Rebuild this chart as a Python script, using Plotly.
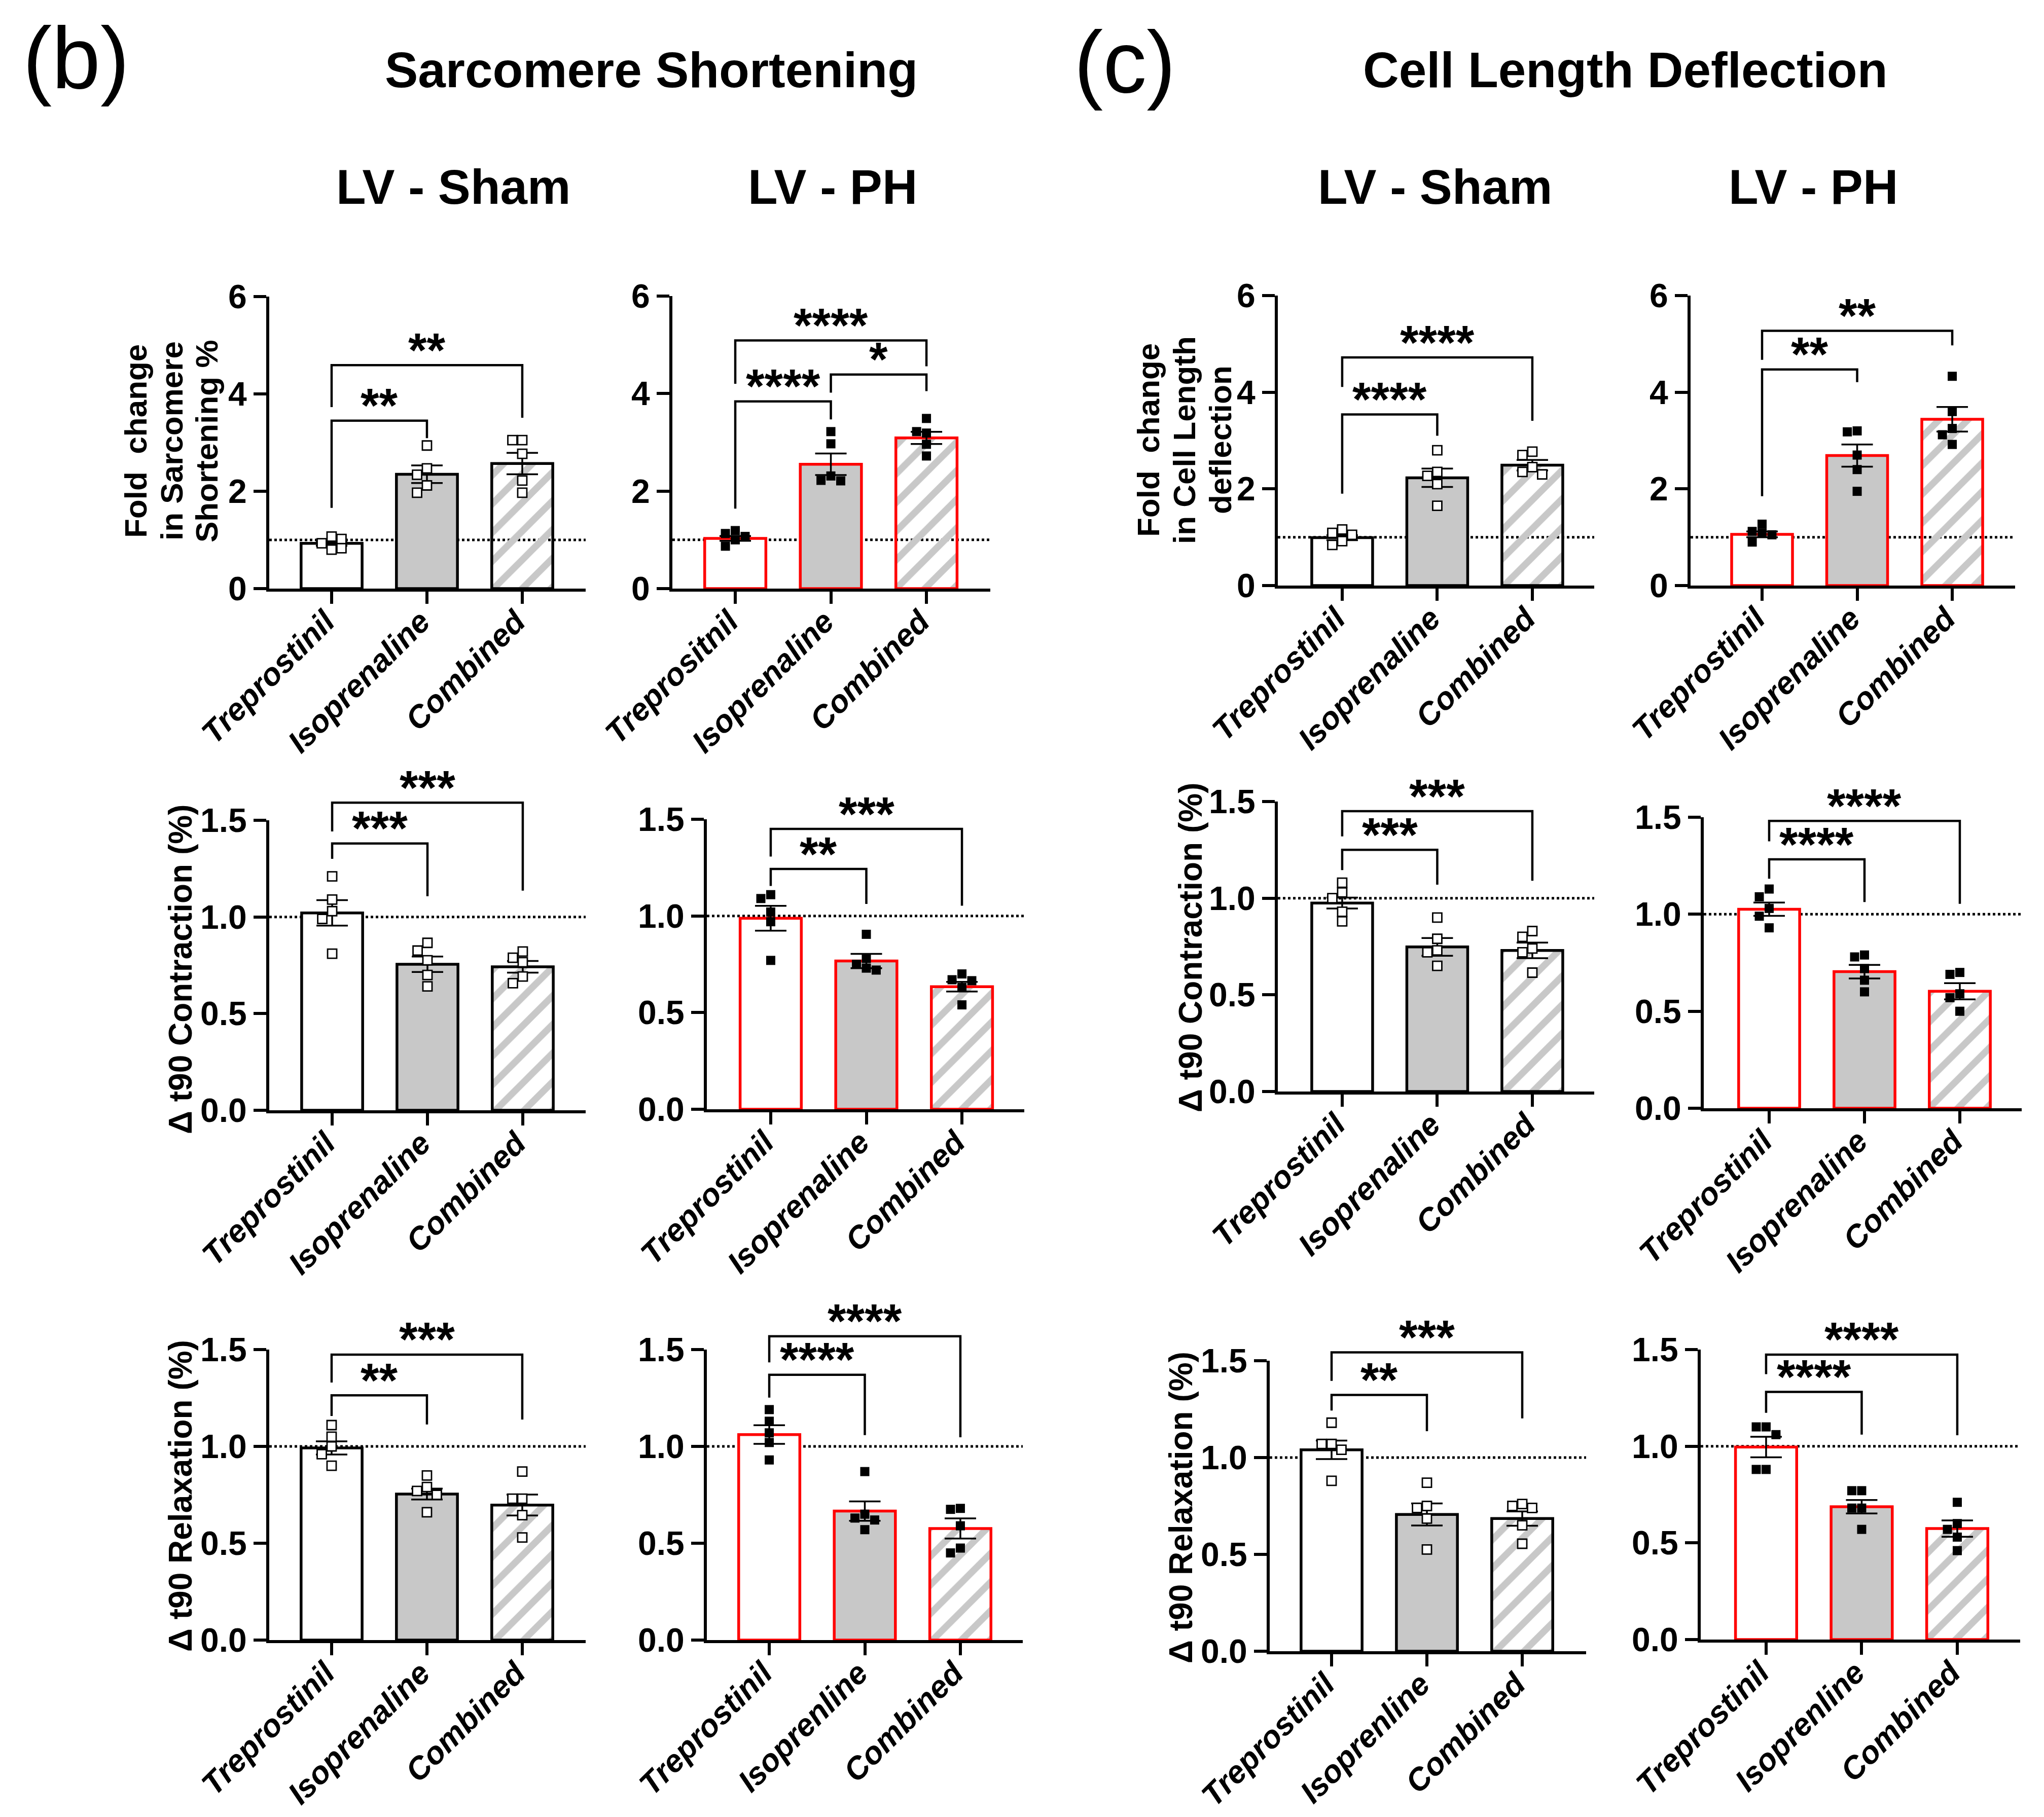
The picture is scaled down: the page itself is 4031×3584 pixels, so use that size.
import plotly.graph_objects as go

W, H = 4031, 3584
FONT = "Liberation Sans"

# ---------------- categories / tick labels ----------------
LBL_STD = ["Treprostinil", "Isoprenaline", "Combined"]
LBL_TYPO = ["Treprositnil", "Isoprenaline", "Combined"]
LBL_ISOPRENLINE = ["Treprostinil", "Isoprenline", "Combined"]

TICKS_FOLD = [0, 2, 4, 6]
TICKTEXT_FOLD = ["0", "2", "4", "6"]
TICKS_T90 = [0, 0.5, 1.0, 1.5]
TICKTEXT_T90 = ["0.0", "0.5", "1.0", "1.5"]

# ---------------- data (Treprostinil, Isoprenaline, Combined) ----------------
# Row 1: fold change in sarcomere shortening (b) / cell length deflection (c)
ss_sham_trep = [1.07, 0.80, 0.93, 1.02, 0.83]
ss_sham_iso = [2.94, 2.47, 2.34, 2.12, 1.97]
ss_sham_comb = [3.05, 3.05, 2.77, 2.22, 1.97]
ss_sham_mean = [0.93, 2.35, 2.57]
ss_sham_sem = [0.05, 0.18, 0.22]

ss_ph_trep = [1.19, 1.13, 1.07, 1.00, 0.87]
ss_ph_iso = [3.22, 2.97, 2.31, 2.22, 2.21]
ss_ph_comb = [3.49, 3.19, 3.22, 2.96, 2.72]
ss_ph_mean = [1.03, 2.55, 3.09]
ss_ph_sem = [0.05, 0.22, 0.125]

cl_sham_trep = [1.16, 1.09, 1.05, 0.92, 0.84]
cl_sham_iso = [2.80, 2.35, 2.27, 2.10, 1.65]
cl_sham_comb = [2.77, 2.70, 2.45, 2.35, 2.30]
cl_sham_mean = [0.99, 2.23, 2.49]
cl_sham_sem = [0.05, 0.19, 0.11]

cl_ph_trep = [1.27, 1.12, 1.08, 1.05, 0.90]
cl_ph_iso = [3.20, 3.18, 2.70, 2.40, 1.95]
cl_ph_comb = [4.33, 3.60, 3.25, 3.12, 2.92]
cl_ph_mean = [1.06, 2.69, 3.44]
cl_ph_sem = [0.06, 0.23, 0.255]

# Row 2: delta t90 contraction
tc_ss_sham_trep = [1.21, 1.09, 1.03, 0.99, 0.81]
tc_ss_sham_iso = [0.866, 0.826, 0.776, 0.70, 0.641]
tc_ss_sham_comb = [0.821, 0.789, 0.766, 0.692, 0.657]
tc_ss_sham_mean = [1.021, 0.755, 0.742]
tc_ss_sham_sem = [0.066, 0.04, 0.03]

tc_ss_ph_trep = [1.11, 1.09, 1.02, 0.97, 0.77]
tc_ss_ph_iso = [0.905, 0.78, 0.75, 0.73, 0.72]
tc_ss_ph_comb = [0.70, 0.67, 0.665, 0.63, 0.54]
tc_ss_ph_mean = [0.988, 0.767, 0.634]
tc_ss_ph_sem = [0.064, 0.037, 0.025]

tc_cl_sham_trep = [1.08, 1.03, 1.00, 0.93, 0.88]
tc_cl_sham_iso = [0.90, 0.79, 0.73, 0.72, 0.65]
tc_cl_sham_comb = [0.83, 0.80, 0.74, 0.72, 0.615]
tc_cl_sham_mean = [0.975, 0.748, 0.73]
tc_cl_sham_sem = [0.028, 0.046, 0.04]

tc_cl_ph_trep = [1.13, 1.09, 1.03, 0.99, 0.93]
tc_cl_ph_iso = [0.79, 0.78, 0.72, 0.66, 0.60]
tc_cl_ph_comb = [0.70, 0.69, 0.59, 0.57, 0.50]
tc_cl_ph_mean = [1.026, 0.704, 0.603]
tc_cl_ph_sem = [0.034, 0.035, 0.042]

# Row 3: delta t90 relaxation
tr_ss_sham_trep = [1.11, 1.05, 1.00, 0.96, 0.90]
tr_ss_sham_iso = [0.85, 0.79, 0.77, 0.75, 0.66]
tr_ss_sham_comb = [0.87, 0.73, 0.73, 0.645, 0.53]
tr_ss_sham_mean = [0.992, 0.754, 0.697]
tr_ss_sham_sem = [0.034, 0.028, 0.054]

tr_ss_ph_trep = [1.19, 1.13, 1.07, 1.02, 0.93]
tr_ss_ph_iso = [0.87, 0.65, 0.63, 0.62, 0.57]
tr_ss_ph_comb = [0.68, 0.675, 0.59, 0.475, 0.45]
tr_ss_ph_mean = [1.061, 0.666, 0.576]
tr_ss_ph_sem = [0.048, 0.05, 0.052]

tr_cl_sham_trep = [1.18, 1.07, 1.07, 1.04, 0.88]
tr_cl_sham_iso = [0.87, 0.75, 0.74, 0.685, 0.525]
tr_cl_sham_comb = [0.76, 0.75, 0.74, 0.65, 0.555]
tr_cl_sham_mean = [1.04, 0.706, 0.685]
tr_cl_sham_sem = [0.048, 0.057, 0.037]

tr_cl_ph_trep = [1.10, 1.10, 1.06, 0.88, 0.88]
tr_cl_ph_iso = [0.77, 0.77, 0.68, 0.68, 0.57]
tr_cl_ph_comb = [0.71, 0.60, 0.57, 0.53, 0.46]
tr_cl_ph_mean = [0.996, 0.687, 0.574]
tr_cl_ph_sem = [0.053, 0.035, 0.042]

# ---------------- panel layout (pixel geometry, bracket levels) ----------------
# geom: (axis left px, axis right px, y=0 px, y=top-tick px)
# br: (group i, group j, label, bracket level, left-leg end, right-leg end)
PANELS = [
    dict(geom=(523, 1147, 1153, 577), xr=(-0.654, 2.665), ymax=6, ext=6.3, ph=False,
         labels=LBL_STD, pts=(ss_sham_trep, ss_sham_iso, ss_sham_comb),
         mean=ss_sham_mean, sem=ss_sham_sem,
         br=[(0, 2, "**", 4.59, 3.73, 3.51), (0, 1, "**", 3.45, 1.66, 3.09)]),
    dict(geom=(1318, 1945, 1153, 576), xr=(-0.658, 2.668), ymax=6, ext=6.3, ph=True,
         labels=LBL_TYPO, pts=(ss_ph_trep, ss_ph_iso, ss_ph_comb),
         mean=ss_ph_mean, sem=ss_ph_sem,
         br=[(0, 2, "****", 5.09, 4.2, 4.56), (0, 1, "****", 3.84, 1.64, 3.47),
             (1, 2, "*", 4.39, 4.02, 4.05)]),
    dict(geom=(2512, 3136, 1147, 575), xr=(-0.677, 2.651), ymax=6, ext=6.3, ph=False,
         labels=LBL_STD, pts=(cl_sham_trep, cl_sham_iso, cl_sham_comb),
         mean=cl_sham_mean, sem=cl_sham_sem,
         br=[(0, 2, "****", 4.72, 4.11, 3.41), (0, 1, "****", 3.54, 1.9, 3.1)]),
    dict(geom=(3326, 3966, 1147, 575), xr=(-0.752, 2.661), ymax=6, ext=6.3, ph=True,
         labels=LBL_STD, pts=(cl_ph_trep, cl_ph_iso, cl_ph_comb),
         mean=cl_ph_mean, sem=cl_ph_sem,
         br=[(0, 2, "**", 5.27, 4.67, 4.97), (0, 1, "**", 4.47, 1.85, 4.21)]),
    dict(geom=(523, 1147, 2182, 1610), xr=(-0.66, 2.66), ymax=1.5, ext=1.8, ph=False,
         labels=LBL_STD, pts=(tc_ss_sham_trep, tc_ss_sham_iso, tc_ss_sham_comb),
         mean=tc_ss_sham_mean, sem=tc_ss_sham_sem,
         br=[(0, 2, "***", 1.591, 1.442, 1.136), (0, 1, "***", 1.38, 1.301, 1.107)]),
    dict(geom=(1386, 2012, 2180, 1608), xr=(-0.668, 2.652), ymax=1.5, ext=1.8, ph=True,
         labels=LBL_STD, pts=(tc_ss_ph_trep, tc_ss_ph_iso, tc_ss_ph_comb),
         mean=tc_ss_ph_mean, sem=tc_ss_ph_sem,
         br=[(0, 2, "***", 1.45, 1.307, 1.053), (0, 1, "**", 1.243, 1.155, 1.062)]),
    dict(geom=(2512, 3136, 2145, 1573), xr=(-0.677, 2.651), ymax=1.5, ext=1.8, ph=False,
         labels=LBL_STD, pts=(tc_cl_sham_trep, tc_cl_sham_iso, tc_cl_sham_comb),
         mean=tc_cl_sham_mean, sem=tc_cl_sham_sem,
         br=[(0, 2, "***", 1.45, 1.32, 1.09), (0, 1, "***", 1.25, 1.145, 1.07)]),
    dict(geom=(3352, 3979, 2178, 1604), xr=(-0.686, 2.649), ymax=1.5, ext=1.8, ph=True,
         labels=LBL_STD, pts=(tc_cl_ph_trep, tc_cl_ph_iso, tc_cl_ph_comb),
         mean=tc_cl_ph_mean, sem=tc_cl_ph_sem,
         br=[(0, 2, "****", 1.481, 1.376, 1.054), (0, 1, "****", 1.283, 1.183, 1.063)]),
    dict(geom=(523, 1147, 3227, 2654), xr=(-0.654, 2.665), ymax=1.5, ext=1.8, ph=False,
         labels=LBL_STD, pts=(tr_ss_sham_trep, tr_ss_sham_iso, tr_ss_sham_comb),
         mean=tr_ss_sham_mean, sem=tr_ss_sham_sem,
         br=[(0, 2, "***", 1.474, 1.33, 1.139), (0, 1, "**", 1.264, 1.157, 1.113)]),
    dict(geom=(1386, 2009, 3227, 2654), xr=(-0.653, 2.653), ymax=1.5, ext=1.8, ph=True,
         labels=LBL_ISOPRENLINE, pts=(tr_ss_ph_trep, tr_ss_ph_iso, tr_ss_ph_comb),
         mean=tr_ss_ph_mean, sem=tr_ss_ph_sem,
         br=[(0, 2, "****", 1.569, 1.434, 1.047), (0, 1, "****", 1.37, 1.252, 1.058)]),
    dict(geom=(2496, 3120, 3249, 2676), xr=(-0.649, 2.67), ymax=1.5, ext=1.8, ph=False,
         labels=LBL_ISOPRENLINE, pts=(tr_cl_sham_trep, tr_cl_sham_iso, tr_cl_sham_comb),
         mean=tr_cl_sham_mean, sem=tr_cl_sham_sem,
         br=[(0, 2, "***", 1.543, 1.396, 1.202), (0, 1, "**", 1.323, 1.243, 1.136)]),
    dict(geom=(3346, 3976, 3226, 2654), xr=(-0.684, 2.658), ymax=1.5, ext=1.8, ph=True,
         labels=LBL_ISOPRENLINE, pts=(tr_cl_ph_trep, tr_cl_ph_iso, tr_cl_ph_comb),
         mean=tr_cl_ph_mean, sem=tr_cl_ph_sem,
         br=[(0, 2, "****", 1.474, 1.373, 1.057), (0, 1, "****", 1.281, 1.173, 1.06)]),
]

GRAY = "#c8c8c8"
RED = "#ff0000"
BAR_W = 0.64
MSIZE = 18
LW_AXIS = 6
LW_BAR = 5.5
LW_BR = 4.5
STAR_SIZE = 94


def swarm(values, ppu_y, ppu_x, msize):
    """simple beeswarm: horizontal offsets (data units) avoiding overlap in pixels"""
    placed, out = [], []
    for v in values:
        vy = v * ppu_y
        dx = 0.0
        for k in [0, -1, 1, -2, 2, -3, 3]:
            dx = k * msize * 1.08
            if all(not (abs(dx - a) < msize and abs(vy - b) < msize) for a, b in placed):
                break
        placed.append((dx, vy))
        out.append(dx / ppu_x)
    return out


fig = go.Figure()
layout = {}
shapes = []
annotations = []

for n, p in enumerate(PANELS, start=1):
    sfx = "" if n == 1 else str(n)
    en = str(n + 12)
    xref, yref, eref = "x" + sfx, "y" + sfx, "y" + en
    left, right, y0px, ytoppx = p["geom"]
    ymax, ext = p["ymax"], p["ext"]
    ppu_y = (y0px - ytoppx) / ymax
    ppu_x = (right - left) / (p["xr"][1] - p["xr"][0])
    ext_top_px = y0px - ext * ppu_y
    fold = ymax > 2

    layout["xaxis" + sfx] = dict(
        domain=[left / W, right / W], range=list(p["xr"]), anchor=yref,
        automargin=False,
        showline=True, linewidth=LW_AXIS, linecolor="black",
        ticks="outside", ticklen=24, tickwidth=LW_AXIS, tickcolor="black",
        tickvals=[0, 1, 2], ticktext=p["labels"], tickangle=-45,
        ticklabelstandoff=-26, ticklabelshift=-12,
        tickfont=dict(family=FONT, size=62, color="black", weight="bold", style="italic"),
        showgrid=False, zeroline=False, fixedrange=True)
    layout["yaxis" + sfx] = dict(
        domain=[1 - y0px / H, 1 - ytoppx / H], range=[0, ymax], anchor=xref,
        automargin=False,
        showline=True, linewidth=LW_AXIS, linecolor="black",
        ticks="outside", ticklen=25, tickwidth=LW_AXIS, tickcolor="black",
        tickvals=TICKS_FOLD if fold else TICKS_T90,
        ticktext=TICKTEXT_FOLD if fold else TICKTEXT_T90,
        tickfont=dict(family=FONT, size=66, color="black", weight="bold"),
        showgrid=False, zeroline=False, fixedrange=True)
    layout["yaxis" + en] = dict(
        domain=[1 - y0px / H, 1 - ext_top_px / H], range=[0, ext], anchor=xref,
        automargin=False,
        visible=False, showgrid=False, zeroline=False, fixedrange=True)

    edge = RED if p["ph"] else "black"
    fig.add_trace(go.Bar(
        x=[0, 1, 2], y=p["mean"], width=BAR_W, xaxis=xref, yaxis=yref,
        marker=dict(color=["white", GRAY, GRAY], line=dict(color=edge, width=LW_BAR),
                    pattern=dict(shape=["", "", "/"], fillmode="replace",
                                 fgcolor="white", bgcolor=GRAY,
                                 fgopacity=1, size=40, solidity=0.33)),
        error_y=dict(type="data", array=p["sem"], visible=True, color="black",
                     thickness=3.5, width=31),
        showlegend=False, hoverinfo="skip"))

    # reference line at 1
    shapes.append(dict(type="line", xref=xref, yref=yref, x0=p["xr"][0], x1=p["xr"][1],
                       y0=1, y1=1, line=dict(color="black", width=5, dash="5px,5px"),
                       layer="below"))

    # individual points
    xs, ys = [], []
    for gi, vals in enumerate(p["pts"]):
        offs = swarm(vals, ppu_y, ppu_x, MSIZE)
        xs += [gi + o for o in offs]
        ys += list(vals)
    if p["ph"]:
        mk = dict(symbol="square", size=MSIZE, color="black", line=dict(width=0))
    else:
        mk = dict(symbol="square", size=MSIZE, color="white", line=dict(color="black", width=2.8))
    fig.add_trace(go.Scatter(x=xs, y=ys, mode="markers", marker=mk, xaxis=xref, yaxis=yref,
                             cliponaxis=False, showlegend=False, hoverinfo="skip"))

    # significance brackets
    for (i, j, lab, yl, ylb, yrb) in p["br"]:
        fig.add_trace(go.Scatter(x=[i, i, j, j], y=[ylb, yl, yl, yrb], mode="lines",
                                 line=dict(color="black", width=LW_BR),
                                 xaxis=xref, yaxis=eref, showlegend=False, hoverinfo="skip"))
        annotations.append(dict(x=(i + j) / 2, y=yl, xref=xref, yref=eref, text=lab,
                                showarrow=False, yanchor="middle", yshift=30,
                                font=dict(family=FONT, size=STAR_SIZE, color="black",
                                          weight="bold")))


def ptext(txt, x, y, size, bold=True, angle=0):
    annotations.append(dict(text=txt, x=x / W, y=1 - y / H, xref="paper", yref="paper",
                            showarrow=False, xanchor="center", yanchor="middle",
                            textangle=angle,
                            font=dict(family=FONT, size=size, color="black",
                                      weight="bold" if bold else "normal")))


# panel letters and titles
ptext("(b)", 142, 106, 172, bold=False)
ptext("(c)", 2210, 114, 172, bold=False)
ptext("Sarcomere Shortening", 1276, 130, 98)
ptext("Cell Length Deflection", 3197, 130, 98)
for txt, x in [("LV - Sham", 886), ("LV - PH", 1634), ("LV - Sham", 2822), ("LV - PH", 3568)]:
    ptext(txt, x, 360, 96)

# y-axis titles
for txt, x in [("Fold  change", 260), ("in Sarcomere", 331), ("Shortening %", 400)]:
    ptext(txt, x, 862, 62, angle=-90)
for txt, x in [("Fold  change", 2256), ("in Cell Length", 2327), ("deflection", 2398)]:
    ptext(txt, x, 860, 62, angle=-90)
ptext("Δ t90 Contraction (%)", 348, 1904, 64, angle=-90)
ptext("Δ t90 Contraction (%)", 2340, 1861, 64, angle=-90)
ptext("Δ t90 Relaxation (%)", 348, 2943, 64, angle=-90)
ptext("Δ t90 Relaxation (%)", 2321, 2966, 64, angle=-90)

fig.update_layout(
    width=W, height=H, margin=dict(l=0, r=0, t=0, b=0, autoexpand=False),
    paper_bgcolor="white", plot_bgcolor="rgba(0,0,0,0)",
    showlegend=False, shapes=shapes, annotations=annotations,
    font=dict(family=FONT, color="black"),
    **layout)

fig.write_html("out.html", config={"displayModeBar": False})
